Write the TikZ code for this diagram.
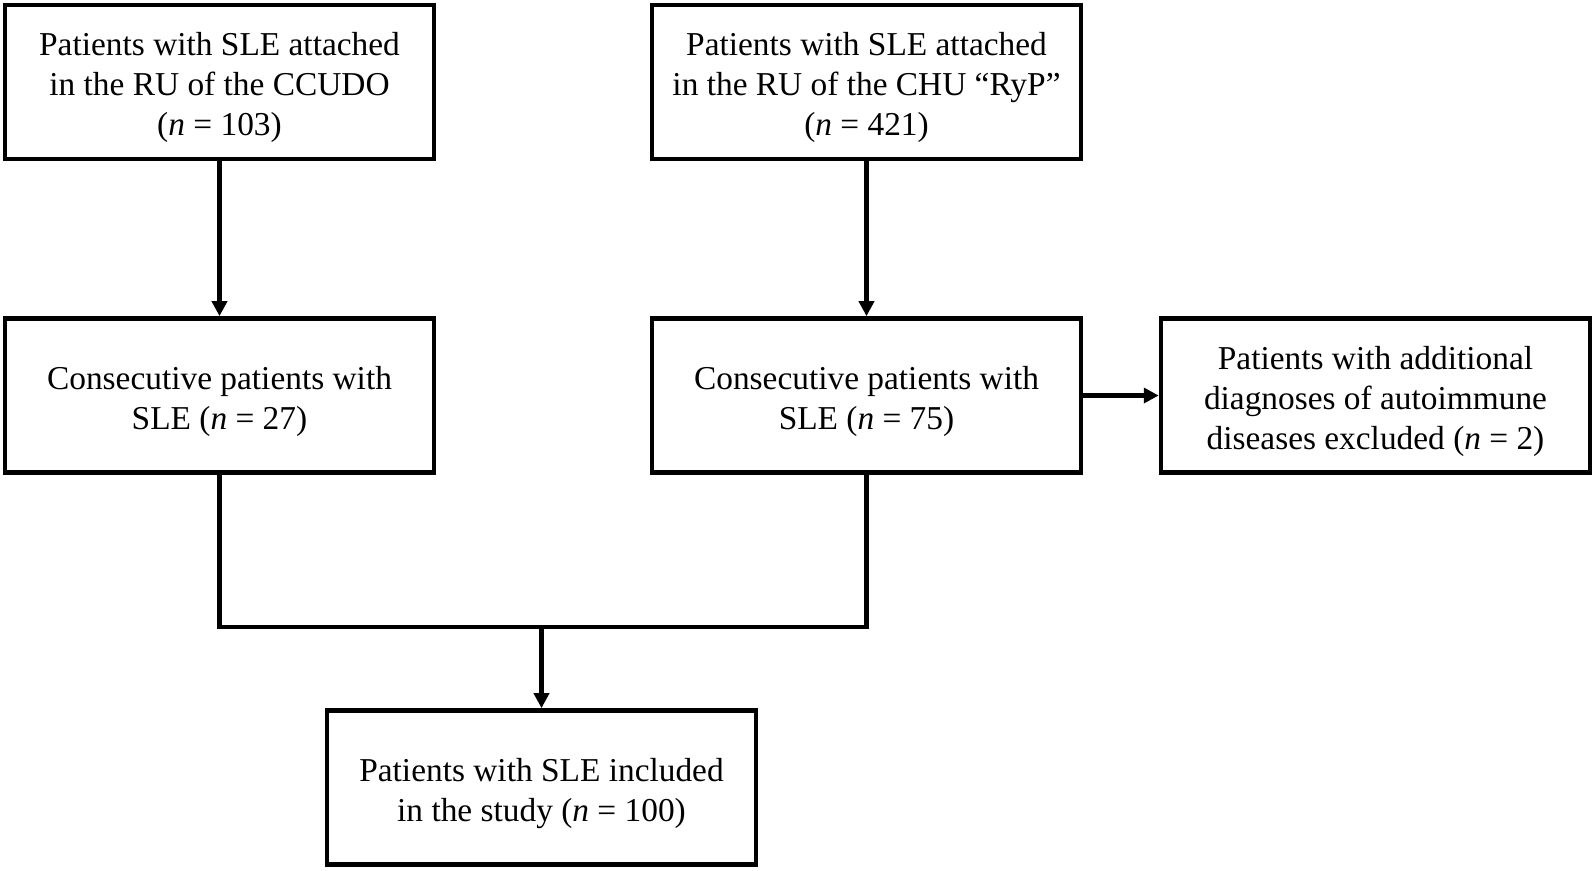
\documentclass[tikz,border=0pt]{standalone}
\usepackage{fontspec}
\setmainfont{Liberation Serif}
\usetikzlibrary{arrows.meta, positioning}
\tikzset{
  flowbox/.style={draw, line width=2.7pt, minimum width=8.58cm, minimum height=3.08cm,
    align=center, inner sep=0pt, font=\fontsize{19}{22.8}\selectfont},
  conn/.style={line width=2.4pt},
  arr/.style={conn, -{Triangle[length=8.5pt,width=8.5pt]}}
}
\def\nn{\textit{n}}
\def\tp{\rule{0pt}{19.5pt}}

\begin{document}
\begin{tikzpicture}[x=0.02cm, y=-0.02cm]
\useasboundingbox (0,0) rectangle (1594,870);
% sources
\node[flowbox] (ccudo) at (219.5, 82) {\tp Patients with SLE attached\\in the RU of the CCUDO\\(\nn{} = 103)};
\node[flowbox] (chu) at (866.5, 82) {\tp Patients with SLE attached\\in the RU of the CHU ``RyP''\\(\nn{} = 421)};
% consecutive
\node[flowbox] (cons1) at (219.5, 395.5) {\tp Consecutive patients with\\SLE (\nn{} = 27)};
\node[flowbox] (cons2) at (866.5, 395.5) {\tp Consecutive patients with\\SLE (\nn{} = 75)};
\node[flowbox] (excl) at (1375.5, 395.5) {\tp Patients with additional\\diagnoses of autoimmune\\diseases excluded (\nn{} = 2)};
% result
\node[flowbox] (incl) at (541.5, 787.5) {\tp Patients with SLE included\\in the study (\nn{} = 100)};

\coordinate (merge) at (541.5, 627);
\draw[arr] (ccudo) -- (cons1);
\draw[arr] (chu) -- (cons2);
\draw[arr] (cons2) -- (excl);
\draw[conn] (cons1.south) |- (merge) -| (cons2.south);
\draw[arr] (merge) -- (incl);
\end{tikzpicture}
\end{document}
